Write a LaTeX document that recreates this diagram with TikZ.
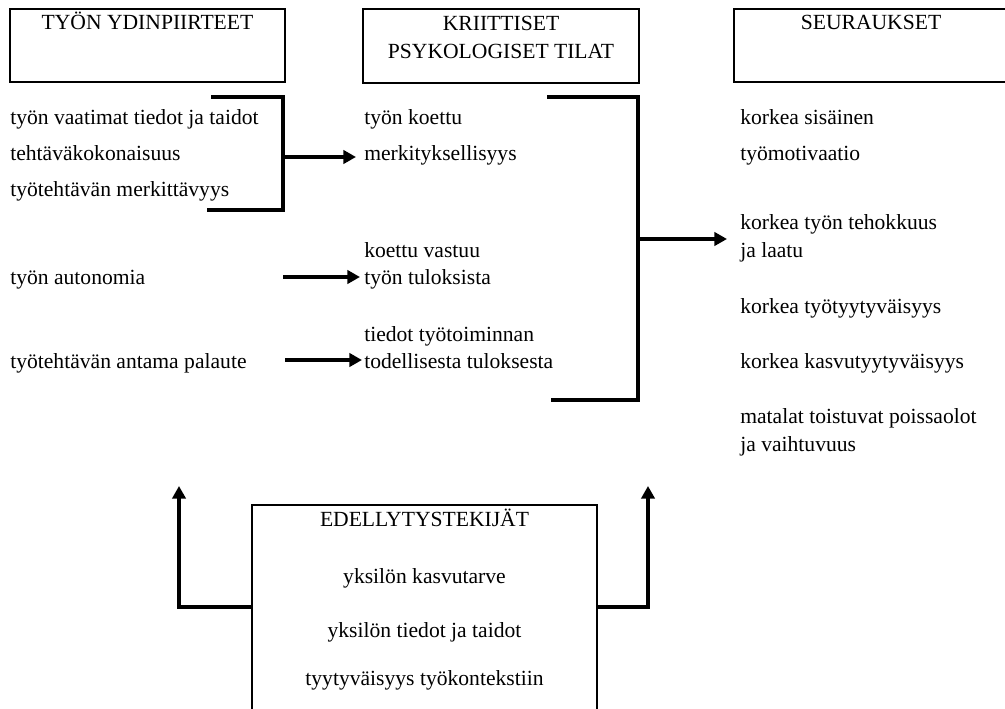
\documentclass[tikz,border=0pt]{standalone}
\usepackage{fontspec}
\setmainfont{Liberation Serif}
\usetikzlibrary{arrows.meta}
\begin{document}
\begin{tikzpicture}[x=0.75pt,y=-0.75pt,
  txt/.style={inner sep=0pt,anchor=base west,font=\fontsize{16.2}{19}\selectfont},
  ctxt/.style={inner sep=0pt,anchor=base,font=\fontsize{16.2}{19}\selectfont},
  box/.style={draw,line width=1pt},
  thick line/.style={line width=2.3pt},
  arr/.style={line width=2.3pt,-{Triangle[length=9.5pt,width=10pt]}}]
\clip (0,0) rectangle (1005,709);
\fill[white] (0,0) rectangle (1005,709);
% header boxes
\draw[box] (10,9) rectangle (285,82);
\node[ctxt] (h1) at (147.5,30) {TYÖN YDINPIIRTEET};
\draw[box] (363,9) rectangle (639,83);
\node[ctxt] (h2a) at (501,31) {KRIITTISET};
\node[ctxt] (h2b) at (501,59) {PSYKOLOGISET TILAT};
\draw[box] (734,9) rectangle (1009,82);
\node[ctxt] (h3) at (871,30) {SEURAUKSET};
% left column
\node[txt] (l1) at (10,125) {työn vaatimat tiedot ja taidot};
\node[txt] (l2) at (10,161) {tehtäväkokonaisuus};
\node[txt] (l3) at (10,197) {työtehtävän merkittävyys};
\node[txt] (l4) at (10,284) {työn autonomia};
\node[txt] (l5) at (10,368) {työtehtävän antama palaute};
% middle column
\node[txt] (m1) at (364,125) {työn koettu};
\node[txt] (m2) at (364,161) {merkityksellisyys};
\node[txt] (m3) at (364,257) {koettu vastuu};
\node[txt] (m4) at (364,284) {työn tuloksista};
\node[txt] (m5) at (364,341) {tiedot työtoiminnan};
\node[txt] (m6) at (364,368) {todellisesta tuloksesta};
% right column
\node[txt] (r1) at (740,125) {korkea sisäinen};
\node[txt] (r2) at (740,161) {työmotivaatio};
\node[txt] (r3) at (740,229) {korkea työn tehokkuus};
\node[txt] (r4) at (740,257) {ja laatu};
\node[txt] (r5) at (740,313) {korkea työtyytyväisyys};
\node[txt] (r6) at (740,368) {korkea kasvutyytyväisyys};
\node[txt] (r7) at (740,423) {matalat toistuvat poissaolot};
\node[txt] (r8) at (740,451) {ja vaihtuvuus};
% bottom box
\draw[box] (252,505) rectangle (597,720);
\node[ctxt] (b1) at (424.5,526) {EDELLYTYSTEKIJÄT};
\node[ctxt] (b2) at (424.5,583) {yksilön kasvutarve};
\node[ctxt] (b3) at (424.5,637) {yksilön tiedot ja taidot};
\node[ctxt] (b4) at (424.5,685) {tyytyväisyys työkontekstiin};
% connector coordinates
\coordinate (lbt) at (211,97);
\coordinate (lbb) at (207,210);
\coordinate (lbm) at (283,157);
\coordinate (lbtip) at (356,157);
\coordinate (aut0) at (283,277);
\coordinate (aut1) at (360,277);
\coordinate (pal0) at (285,360);
\coordinate (pal1) at (362,360);
\coordinate (rbt) at (547,97);
\coordinate (rbb) at (551,400);
\coordinate (rbm) at (638,239);
\coordinate (rbtip) at (727,239);
\coordinate (bl) at (252,607);
\coordinate (bltip) at (179,486);
\coordinate (br) at (597,607);
\coordinate (brtip) at (648,486);
% brackets and arrows
\draw[thick line] (lbt) -| (lbm) |- (lbb);
\draw[arr] (lbm) -- (lbtip);
\draw[arr] (aut0) -- (aut1);
\draw[arr] (pal0) -- (pal1);
\draw[thick line] (rbt) -| (rbm) |- (rbb);
\draw[arr] (rbm) -- (rbtip);
\draw[arr] (bl) -| (bltip);
\draw[arr] (br) -| (brtip);
\end{tikzpicture}
\end{document}
